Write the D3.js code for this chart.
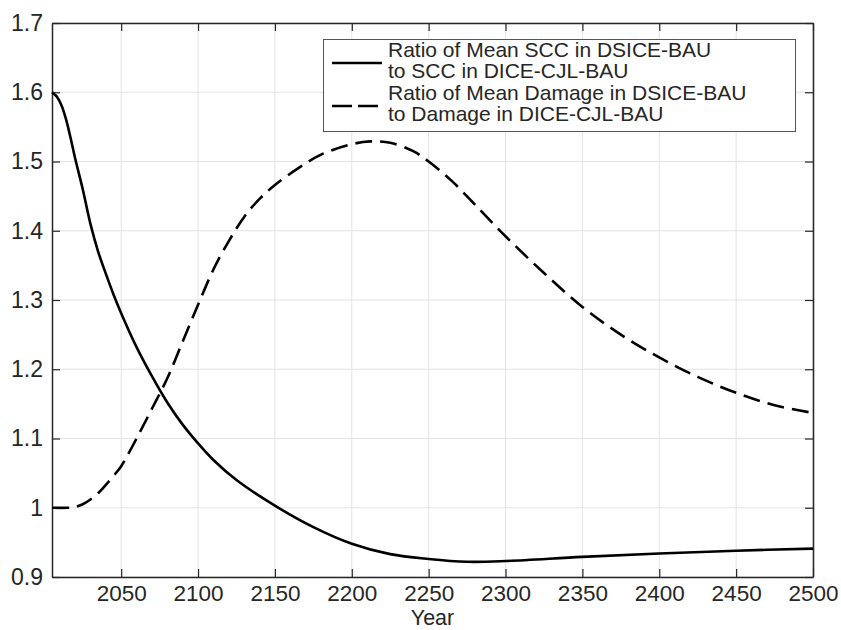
<!DOCTYPE html>
<html>
<head>
<meta charset="utf-8">
<script src="https://cdn.jsdelivr.net/npm/d3@7"></script>
<style>
  body { margin: 0; background: #fff; }
  svg text { font-family: "Liberation Sans", Arial, Helvetica, sans-serif; fill: #262626; }
</style>
</head>
<body>
<div id="chart"></div>
<script>
// ratio curves
var sccYears = [2005, 2008, 2011, 2014, 2017, 2020, 2025, 2030, 2035, 2040, 2045, 2050, 2060, 2070, 2080, 2090, 2100, 2110, 2125, 2150, 2175, 2200, 2225, 2250, 2275, 2300, 2350, 2400, 2450, 2500];
var sccRatio = [1.600, 1.594, 1.582, 1.562, 1.535, 1.505, 1.460, 1.410, 1.370, 1.338, 1.308, 1.281, 1.232, 1.190, 1.152, 1.120, 1.093, 1.069, 1.040, 1.003, 0.972, 0.948, 0.933, 0.926, 0.922, 0.923, 0.929, 0.934, 0.938, 0.941];

var dmgYears = [2005, 2015, 2020, 2025, 2030, 2035, 2040, 2045, 2050, 2060, 2070, 2080, 2090, 2100, 2110, 2120, 2130, 2140, 2150, 2165, 2180, 2200, 2212, 2225, 2240, 2250, 2265, 2280, 2300, 2325, 2350, 2375, 2400, 2425, 2450, 2475, 2500];
var dmgRatio = [1.000, 1.000, 1.001, 1.005, 1.012, 1.021, 1.033, 1.046, 1.060, 1.100, 1.143, 1.187, 1.240, 1.293, 1.344, 1.385, 1.420, 1.446, 1.466, 1.490, 1.510, 1.525, 1.529, 1.527, 1.515, 1.500, 1.472, 1.438, 1.392, 1.339, 1.290, 1.250, 1.217, 1.189, 1.166, 1.148, 1.137];

var xTicks = [2050, 2100, 2150, 2200, 2250, 2300, 2350, 2400, 2450, 2500];
var yTicks = [0.9, 1, 1.1, 1.2, 1.3, 1.4, 1.5, 1.6, 1.7];

var legendLabels = [
    ["Ratio of Mean SCC in DSICE-BAU", "to SCC in DICE-CJL-BAU"],
    ["Ratio of Mean Damage in DSICE-BAU", "to Damage in DICE-CJL-BAU"]
];

var width = 841, height = 630;
var margin = { top: 23, right: 28, bottom: 53, left: 52 };

var svg = d3.select('#chart').append('svg')
    .attr('width', width)
    .attr('height', height);

var x = d3.scaleLinear().domain([2005, 2500]).range([margin.left, width - margin.right]);
var y = d3.scaleLinear().domain([0.9, 1.7]).range([height - margin.bottom, margin.top]);

var axisColor = '#262626';
var tickLen = 8;

// grid
svg.append('g').selectAll('line.vg')
    .data(xTicks).enter().append('line')
    .attr('x1', d => x(d)).attr('x2', d => x(d))
    .attr('y1', y(0.9)).attr('y2', y(1.7))
    .attr('stroke', '#e3e3e3').attr('stroke-width', 1);
svg.append('g').selectAll('line.hg')
    .data(yTicks).enter().append('line')
    .attr('y1', d => y(d)).attr('y2', d => y(d))
    .attr('x1', x(2005)).attr('x2', x(2500))
    .attr('stroke', '#e3e3e3').attr('stroke-width', 1);

// axes, ticks pointing inward, on all four sides
var xBottom = svg.append('g')
    .attr('transform', 'translate(0,' + y(0.9) + ')')
    .call(d3.axisBottom(x).tickValues(xTicks).tickSizeInner(-tickLen).tickSizeOuter(0).tickPadding(8).tickFormat(d3.format('d')));
var xTop = svg.append('g')
    .attr('transform', 'translate(0,' + y(1.7) + ')')
    .call(d3.axisTop(x).tickValues(xTicks).tickSizeInner(-tickLen).tickSizeOuter(0).tickFormat(''));
var yLeft = svg.append('g')
    .attr('transform', 'translate(' + x(2005) + ',0)')
    .call(d3.axisLeft(y).tickValues(yTicks).tickSizeInner(-tickLen).tickSizeOuter(0).tickPadding(9).tickFormat(d3.format('')));
var yRight = svg.append('g')
    .attr('transform', 'translate(' + x(2500) + ',0)')
    .call(d3.axisRight(y).tickValues(yTicks).tickSizeInner(-tickLen).tickSizeOuter(0).tickFormat(''));

[xBottom, xTop, yLeft, yRight].forEach(function(g) {
    g.select('.domain').attr('stroke', axisColor).attr('stroke-width', 1.5);
    g.selectAll('.tick line').attr('stroke', axisColor).attr('stroke-width', 1.2);
    g.selectAll('.tick text').attr('font-size', '23px').attr('fill', axisColor)
        .attr('font-family', '"Liberation Sans", Arial, sans-serif');
});
xBottom.selectAll('.tick text').attr('font-size', '22.5px');

svg.append('text')
    .attr('x', (x(2005) + x(2500)) / 2)
    .attr('y', 625)
    .attr('text-anchor', 'middle')
    .attr('font-size', '21.5px')
    .text('Year');

// curves
var line = d3.line()
    .x(d => x(d[0]))
    .y(d => y(d[1]))
    .curve(d3.curveCatmullRom.alpha(0.5));

svg.append('path')
    .datum(d3.zip(dmgYears, dmgRatio))
    .attr('d', line)
    .attr('fill', 'none')
    .attr('stroke', '#000')
    .attr('stroke-width', 2.6)
    .attr('stroke-dasharray', '17,8');

svg.append('path')
    .datum(d3.zip(sccYears, sccRatio))
    .attr('d', line)
    .attr('fill', 'none')
    .attr('stroke', '#000')
    .attr('stroke-width', 2.6);

// legend
var legend = svg.append('g');
legend.append('rect')
    .attr('x', 323.5).attr('y', 39.5)
    .attr('width', 472).attr('height', 92)
    .attr('fill', '#fff')
    .attr('stroke', '#555').attr('stroke-width', 1);

var rows = legend.selectAll('g.row')
    .data(legendLabels).enter().append('g')
    .attr('transform', (d, i) => 'translate(0,' + (i * 43) + ')');

rows.append('line')
    .attr('x1', 332).attr('x2', 382)
    .attr('y1', 63).attr('y2', 63)
    .attr('stroke', '#000').attr('stroke-width', 2.6)
    .attr('stroke-dasharray', (d, i) => i === 0 ? null : '20,6');

rows.each(function(d) {
    var g = d3.select(this);
    d.forEach(function(t, j) {
        g.append('text')
            .attr('x', 388)
            .attr('y', 57 + j * 21)
            .attr('font-size', '21px')
            .text(t);
    });
});
</script>
</body>
</html>
